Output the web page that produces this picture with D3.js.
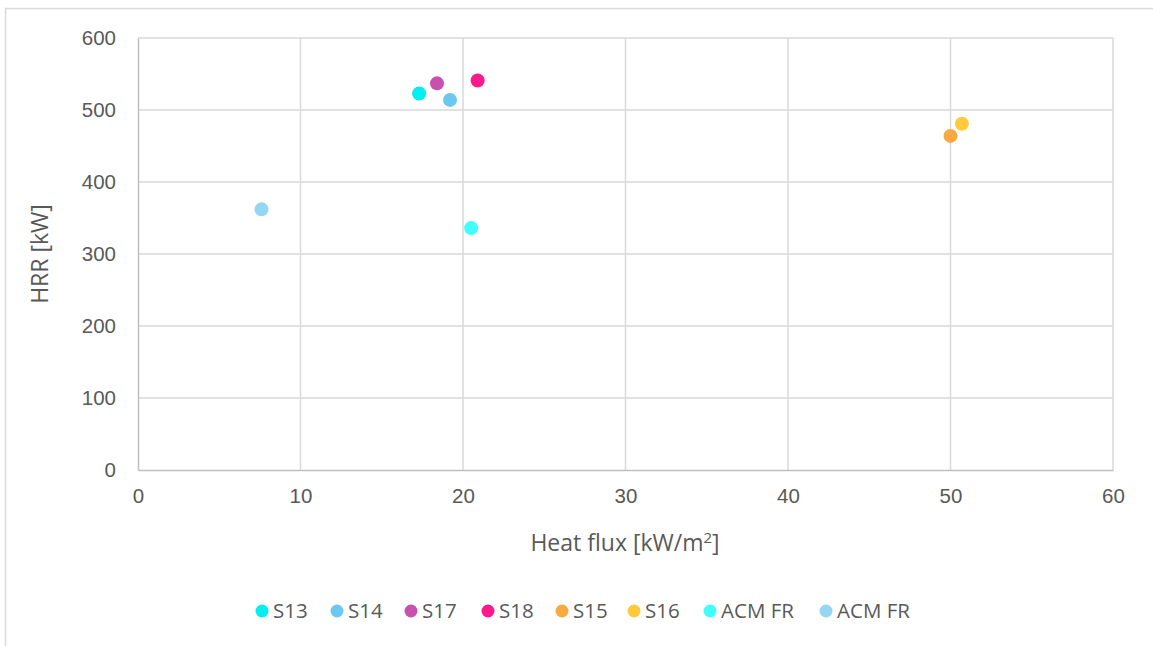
<!DOCTYPE html>
<html><head><meta charset="utf-8">
<script src="https://cdn.jsdelivr.net/npm/d3@7"></script>
<style>body{margin:0;background:#fff;}svg{display:block;font-family:"Open Sans","Liberation Sans",Arial,sans-serif;}</style>
</head><body><svg id="c" width="1153" height="646"></svg>
<script>
const seriesNames = ["S13","S14","S17","S18","S15","S16","ACM FR","ACM FR"];
const heatFlux = [17.3, 19.2, 18.4, 20.9, 50.0, 50.7, 20.5, 7.6];
const hrr = [523, 514, 537, 541, 464, 481, 336, 362];
const colors = ["#00F0F0","#6CC8EE","#C851B0","#FF1A8C","#F9A942","#FFCB3C","#40FFFF","#94D6F4"];
const xTicks = [0,10,20,30,40,50,60];
const yTicks = [0,100,200,300,400,500,600];

const svg = d3.select("#c");
const txt = "#595959";
// outer chart border
svg.append("path").attr("d","M5.5,646 V8.5 H1153").attr("fill","none").attr("stroke","#d9d9d9").attr("stroke-width",1.5);

const x = d3.scaleLinear().domain([0,60]).range([138,1113]);
const y = d3.scaleLinear().domain([0,600]).range([470,38]);

// gridlines
svg.append("g").selectAll("line").data(xTicks.slice(1)).join("line")
  .attr("x1",d=>x(d)).attr("x2",d=>x(d)).attr("y1",y(0)).attr("y2",y(600))
  .attr("stroke","#d9d9d9").attr("stroke-width",1.5);
svg.append("g").selectAll("line").data(yTicks.slice(1)).join("line")
  .attr("x1",x(0)).attr("x2",x(60)).attr("y1",d=>y(d)).attr("y2",d=>y(d))
  .attr("stroke","#d9d9d9").attr("stroke-width",1.5);

// axes
const xa = svg.append("g").attr("transform",`translate(0,${y(0)})`)
  .call(d3.axisBottom(x).tickValues(xTicks).tickSize(0).tickPadding(18));
xa.select(".domain").attr("stroke","#bfbfbf").attr("stroke-width",1.5);
xa.selectAll("text").attr("fill",txt).style("font-size","20.5px");
const ya = svg.append("g").attr("transform",`translate(${x(0)},0)`)
  .call(d3.axisLeft(y).tickValues(yTicks).tickSize(0).tickPadding(22));
ya.select(".domain").attr("stroke","#bfbfbf").attr("stroke-width",1.5);
ya.selectAll("text").attr("fill",txt).style("font-size","20.5px");

// axis titles
svg.append("text").attr("x",625).attr("y",551).attr("text-anchor","middle")
  .attr("fill",txt).style("font-size","23px")
  .html('Heat flux [kW/m<tspan dy="-8" font-size="15px">2</tspan><tspan dy="8">]</tspan>');
svg.append("text").attr("transform","translate(48,254) rotate(-90)").attr("text-anchor","middle")
  .attr("fill",txt).style("font-size","23px").text("HRR [kW]");

// points
svg.append("g").selectAll("circle").data(seriesNames.map((n,i)=>i)).join("circle")
  .attr("cx",i=>x(heatFlux[i])).attr("cy",i=>y(hrr[i])).attr("r",7)
  .attr("fill",i=>colors[i]);

// legend
const legX = [262,337,411,488,562,634,710,826];
const lg = svg.append("g");
seriesNames.forEach((n,i)=>{
  lg.append("circle").attr("cx",legX[i]).attr("cy",611).attr("r",6.5).attr("fill",colors[i]);
  lg.append("text").attr("x",legX[i]+11).attr("y",618).attr("fill",txt).style("font-size","20.5px").text(n);
});
</script></body></html>
